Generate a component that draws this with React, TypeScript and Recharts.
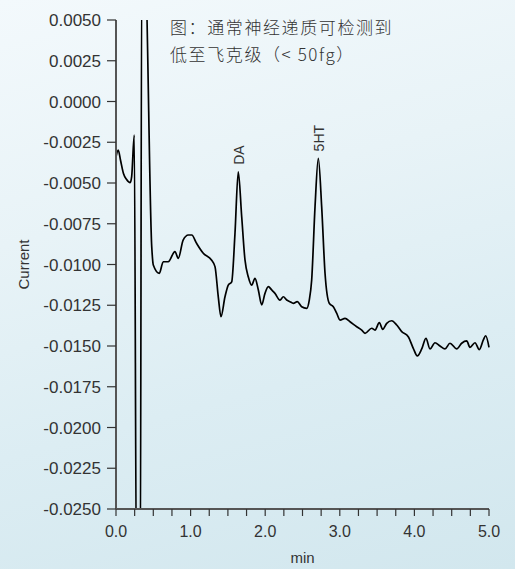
import React from "react";
import { LineChart, Line, XAxis, YAxis, ReferenceDot, Label } from "recharts";

const times = [
  0.0, 0.03, 0.06, 0.1, 0.14, 0.19, 0.21, 0.245, 0.275, 0.325, 0.345, 0.39, 0.479, 0.5, 0.58, 0.634, 0.7, 0.79, 0.835,
  0.9, 0.97, 1.015, 1.08, 1.17, 1.28, 1.327, 1.371, 1.407, 1.461, 1.505, 1.551, 1.595, 1.639, 1.685, 1.729, 1.773, 1.819,
  1.863, 1.908, 1.953, 1.997, 2.042, 2.087, 2.131, 2.198, 2.243, 2.288, 2.332, 2.377, 2.43, 2.489, 2.556, 2.591, 2.623,
  2.668, 2.712, 2.757, 2.802, 2.859, 2.913, 2.958, 3.003, 3.07, 3.137, 3.227, 3.294, 3.338, 3.428, 3.472, 3.53, 3.575,
  3.629, 3.696, 3.763, 3.83, 3.918, 3.985, 4.039, 4.098, 4.155, 4.209, 4.276, 4.343, 4.41, 4.477, 4.567, 4.634, 4.701,
  4.745, 4.812, 4.87, 4.924, 4.956, 5.0,
];

const currents = [
  -0.00339, -0.00298, -0.00359, -0.00441, -0.00477, -0.00498, -0.00461, -0.00206, -0.03, -0.03, 0.008, 0.008, -0.00891,
  -0.01003, -0.01054, -0.00983, -0.00983, -0.00921, -0.00962, -0.0085, -0.00819, -0.00819, -0.0087, -0.00931, -0.00972,
  -0.01013, -0.01198, -0.0132, -0.01198, -0.01126, -0.01106, -0.00809, -0.00431, -0.00707, -0.00972, -0.01075, -0.01126,
  -0.01085, -0.01156, -0.01248, -0.01177, -0.01136, -0.01156, -0.01177, -0.01218, -0.01198, -0.01218, -0.01228, -0.01238,
  -0.01228, -0.01259, -0.01269, -0.01218, -0.01095, -0.00645, -0.00349, -0.00645, -0.01054, -0.01238, -0.01259, -0.01299,
  -0.01341, -0.0133, -0.01351, -0.01382, -0.01402, -0.01422, -0.01391, -0.01402, -0.01357, -0.01398, -0.01361, -0.01345,
  -0.01371, -0.01412, -0.01443, -0.01514, -0.01561, -0.01518, -0.01453, -0.01518, -0.0148, -0.015, -0.01518, -0.01483,
  -0.01518, -0.01483, -0.01469, -0.01508, -0.0148, -0.01522, -0.01463, -0.01437, -0.01508,
];

const xTicks = [0, 0.25, 0.5, 0.75, 1, 1.25, 1.5, 1.75, 2, 2.25, 2.5, 2.75, 3, 3.25, 3.5, 3.75, 4, 4.25, 4.5, 4.75, 5];
const yTicks = [0.005, 0.0025, 0, -0.0025, -0.005, -0.0075, -0.01, -0.0125, -0.015, -0.0175, -0.02, -0.0225, -0.025];

const peakLabels = [
  { name: "DA", t: 1.639, v: -0.00431 },
  { name: "5HT", t: 2.712, v: -0.00349 },
];

const noteLines = ["图：通常神经递质可检测到", "低至飞克级（< 50fg）"];

const data = times.map((t, i) => ({ t, v: currents[i] }));

const FONT = "'Liberation Sans', Arial, sans-serif";
const TEXT = "#333";

const PeakLabel = (props: any) => {
  const { viewBox, value } = props;
  const x = viewBox.x + (viewBox.width || 0) / 2;
  const y = viewBox.y + (viewBox.height || 0) / 2;
  const tx = x + 1;
  const ty = y - 7;
  return (
    <text
      x={tx}
      y={ty}
      transform={`rotate(-90 ${tx} ${ty})`}
      textAnchor="start"
      dominantBaseline="central"
      fontFamily={FONT}
      fontSize={14}
      fill={TEXT}
    >
      {value}
    </text>
  );
};

export default function App() {
  return (
    <div
      style={{
        position: "fixed",
        left: 0,
        top: 0,
        width: 515,
        height: 569,
        background: "linear-gradient(165deg, #f3f9fc 0%, #e8f3f7 35%, #dcedf3 65%, #d2e7ee 100%)",
        overflow: "hidden",
      }}
    >
      <div
        style={{
          position: "absolute",
          left: 170,
          top: 13,
          fontFamily: "'Noto Sans CJK SC', sans-serif",
          fontWeight: 300,
          fontSize: 17,
          lineHeight: "27px",
          color: TEXT,
          letterSpacing: 1.6,
        }}
      >
        {noteLines.map((l) => (
          <div key={l}>{l}</div>
        ))}
      </div>
      <LineChart width={515} height={569} data={data} margin={{ top: 20, right: 26, bottom: 0, left: 36 }}>
        <XAxis
          dataKey="t"
          type="number"
          domain={[0, 5]}
          ticks={xTicks}
          interval={0}
          tickFormatter={(v: number) => (Math.abs(v - Math.round(v)) < 1e-9 ? v.toFixed(1) : "")}
          tick={{ fontFamily: FONT, fontSize: 16, fill: TEXT }}
          tickSize={7}
          tickMargin={10}
          axisLine={{ stroke: "#555", strokeWidth: 2 }}
          tickLine={{ stroke: "#333", strokeWidth: 1.2 }}
          height={60}
        >
          <Label value="min" position="insideBottom" offset={6} style={{ fontFamily: FONT, fontSize: 15, fill: TEXT }} />
        </XAxis>
        <YAxis
          type="number"
          domain={[-0.025, 0.005]}
          allowDataOverflow
          ticks={yTicks}
          interval={0}
          tickFormatter={(v: number) => v.toFixed(4)}
          tick={{ fontFamily: FONT, fontSize: 17, fill: TEXT }}
          tickSize={9}
          tickMargin={6}
          axisLine={{ stroke: "#555", strokeWidth: 2 }}
          tickLine={{ stroke: "#333", strokeWidth: 1.2 }}
          width={80}
        >
          <Label
            value="Current"
            angle={-90}
            position="insideLeft"
            offset={-12}
            style={{ fontFamily: FONT, fontSize: 15, fill: TEXT, textAnchor: "middle" }}
          />
        </YAxis>
        <Line
          type="monotone"
          dataKey="v"
          stroke="#000"
          strokeWidth={1.7}
          dot={false}
          isAnimationActive={false}
        />
        {peakLabels.map((p) => (
          <ReferenceDot
            key={p.name}
            x={p.t}
            y={p.v}
            r={0}
            fill="none"
            stroke="none"
            label={<PeakLabel value={p.name} />}
          />
        ))}
      </LineChart>
    </div>
  );
}
